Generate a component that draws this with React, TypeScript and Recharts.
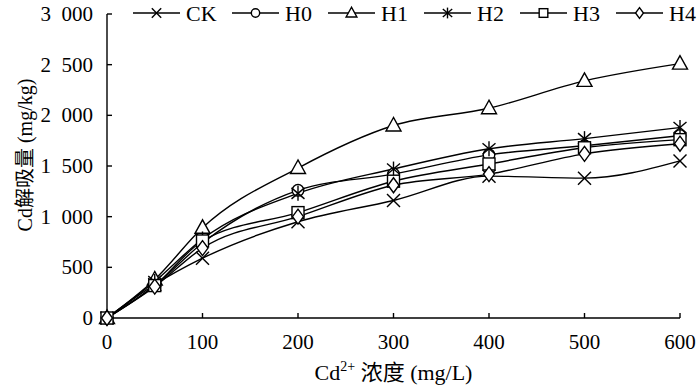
import React from "react";
import { LineChart, Line, XAxis, YAxis, Legend } from "recharts";

const concentrations = [0, 50, 100, 200, 300, 400, 500, 600];
const CK = [0, 330, 590, 950, 1160, 1400, 1380, 1550];
const H0 = [0, 320, 740, 1260, 1420, 1610, 1700, 1800];
const H1 = [0, 380, 890, 1480, 1900, 2070, 2340, 2510];
const H2 = [0, 360, 780, 1230, 1470, 1670, 1770, 1880];
const H3 = [0, 320, 760, 1040, 1350, 1520, 1680, 1760];
const H4 = [0, 310, 690, 1000, 1310, 1420, 1620, 1720];
const seriesNames = ["CK", "H0", "H1", "H2", "H3", "H4"];
const seriesShapes = ["x", "circle", "triangle", "star", "square", "diamond"];
const seriesValues = [CK, H0, H1, H2, H3, H4];
const xTicks = [0, 100, 200, 300, 400, 500, 600];
const yTicks = [0, 500, 1000, 1500, 2000, 2500, 3000];

const data = concentrations.map((c, i) => {
  const row: any = { c };
  seriesNames.forEach((n, k) => (row[n] = seriesValues[k][i]));
  return row;
});

const FONT = "Liberation Serif, DejaVu Serif, Noto Sans CJK SC, serif";
const SW = 1.4;

function Marker({ shape, cx, cy, s = 1 }: { shape: string; cx: number; cy: number; s?: number }) {
  const p = { stroke: "#000", strokeWidth: SW, fill: "#fff" };
  const k = (v: number) => v * s;
  switch (shape) {
    case "x":
      return (
        <g {...p}>
          <line x1={cx - k(6.5)} y1={cy - k(6.5)} x2={cx + k(6.5)} y2={cy + k(6.5)} />
          <line x1={cx - k(6.5)} y1={cy + k(6.5)} x2={cx + k(6.5)} y2={cy - k(6.5)} />
        </g>
      );
    case "circle":
      return <circle cx={cx} cy={cy} r={k(5.8)} {...p} />;
    case "triangle":
      return (
        <polygon
          points={`${cx},${cy - k(8)} ${cx - k(7.5)},${cy + k(5.5)} ${cx + k(7.5)},${cy + k(5.5)}`}
          {...p}
        />
      );
    case "star":
      return (
        <g {...p}>
          <line x1={cx - k(6.5)} y1={cy - k(5.5)} x2={cx + k(6.5)} y2={cy + k(5.5)} />
          <line x1={cx - k(6.5)} y1={cy + k(5.5)} x2={cx + k(6.5)} y2={cy - k(5.5)} />
          <line x1={cx} y1={cy - k(7.5)} x2={cx} y2={cy + k(7.5)} />
        </g>
      );
    case "square":
      return <rect x={cx - k(6)} y={cy - k(6)} width={k(12)} height={k(12)} {...p} />;
    case "diamond":
      return (
        <polygon
          points={`${cx},${cy - k(7.5)} ${cx + k(5.5)},${cy} ${cx},${cy + k(7.5)} ${cx - k(5.5)},${cy}`}
          {...p}
        />
      );
    default:
      return null;
  }
}

const fmt = (v: number) => {
  if (v >= 1000) {
    const th = Math.floor(v / 1000);
    const rest = String(v % 1000).padStart(3, "0");
    return `${th}\u2002${rest}`;
  }
  return String(v);
};

const txtStyle = { fontFamily: FONT, fill: "#000" } as React.CSSProperties;

const XTick = (props: any) => {
  const { x, y, payload } = props;
  return (
    <g>
      {payload.value !== 0 && <line x1={x} y1={y} x2={x} y2={y - 5} stroke="#000" strokeWidth={SW} />}
      <text x={x} y={y + 31} textAnchor="middle" style={{ ...txtStyle, fontSize: 21 }}>
        {payload.value}
      </text>
    </g>
  );
};

const YTick = (props: any) => {
  const { x, y, payload } = props;
  return (
    <g>
      {payload.value !== 0 && <line x1={x} y1={y} x2={x + 5} y2={y} stroke="#000" strokeWidth={SW} />}
      <text x={x - 14} y={y + 7} textAnchor="end" style={{ ...txtStyle, fontSize: 21 }}>
        {fmt(payload.value)}
      </text>
    </g>
  );
};

const XTitle = (props: any) => {
  const { viewBox } = props;
  const cx = viewBox.x + viewBox.width / 2;
  const y = viewBox.y + 62;
  return (
    <text x={cx} y={y} textAnchor="middle" style={{ ...txtStyle, fontSize: 22 }}>
      Cd
      <tspan style={{ fontSize: 14 }} dy={-9}>2+</tspan>
      <tspan dy={9}> 浓度 (mg/L)</tspan>
    </text>
  );
};

const YTitle = (props: any) => {
  const { viewBox } = props;
  const cy = viewBox.y + 141;
  const x = 25;
  return (
    <text
      x={x}
      y={cy}
      transform={`rotate(-90, ${x}, ${cy})`}
      textAnchor="middle"
      dominantBaseline="central"
      style={{ ...txtStyle, fontSize: 20 }}
    >
      Cd解吸量 (mg/kg)
    </text>
  );
};

const legendTextWidth = (n: string) => (n === "CK" ? 31 : 28);

const LegendContent = () => {
  let x0 = 0;
  return (
    <svg width={567} height={30}>
      {seriesNames.map((n, i) => {
        const start = x0;
        x0 += 47 + 6 + legendTextWidth(n) + 15;
        return (
          <g key={n}>
            <line x1={start} y1={13} x2={start + 47} y2={13} stroke="#000" strokeWidth={SW} />
            <Marker shape={seriesShapes[i]} cx={start + 23.5} cy={13} s={0.72} />
            <text x={start + 53} y={20.5} style={{ ...txtStyle, fontSize: 22 }}>
              {n}
            </text>
          </g>
        );
      })}
    </svg>
  );
};

export default function App() {
  return (
    <div style={{ position: "absolute", left: 0, top: 0, width: 700, height: 390, background: "#fff" }}>
      <LineChart width={700} height={390} data={data} margin={{ top: 14, right: 20, bottom: 2, left: 47 }}>
        <XAxis
          dataKey="c"
          type="number"
          domain={[0, 600]}
          ticks={xTicks}
          height={70}
          tickSize={0}
          tickMargin={0}
          tickLine={false}
          axisLine={{ stroke: "#000", strokeWidth: SW }}
          tick={<XTick />}
          label={<XTitle />}
          interval={0}
        />
        <YAxis
          type="number"
          domain={[0, 3000]}
          ticks={yTicks}
          width={60}
          tickSize={0}
          tickMargin={0}
          tickLine={false}
          axisLine={{ stroke: "#000", strokeWidth: SW }}
          tick={<YTick />}
          label={<YTitle />}
          interval={0}
        />
        <Legend
          layout="horizontal"
          verticalAlign="middle"
          align="center"
          content={<LegendContent />}
          wrapperStyle={{ position: "absolute", top: 0, left: 133, width: 567, height: 30 }}
        />
        {seriesNames.map((n, i) => (
          <Line
            key={n}
            dataKey={n}
            type="monotone"
            stroke="#000"
            strokeWidth={SW}
            isAnimationActive={false}
            dot={(p: any) => <Marker key={`${n}-${p.index}`} shape={seriesShapes[i]} cx={p.cx} cy={p.cy} />}
            activeDot={false}
          />
        ))}
      </LineChart>
    </div>
  );
}
